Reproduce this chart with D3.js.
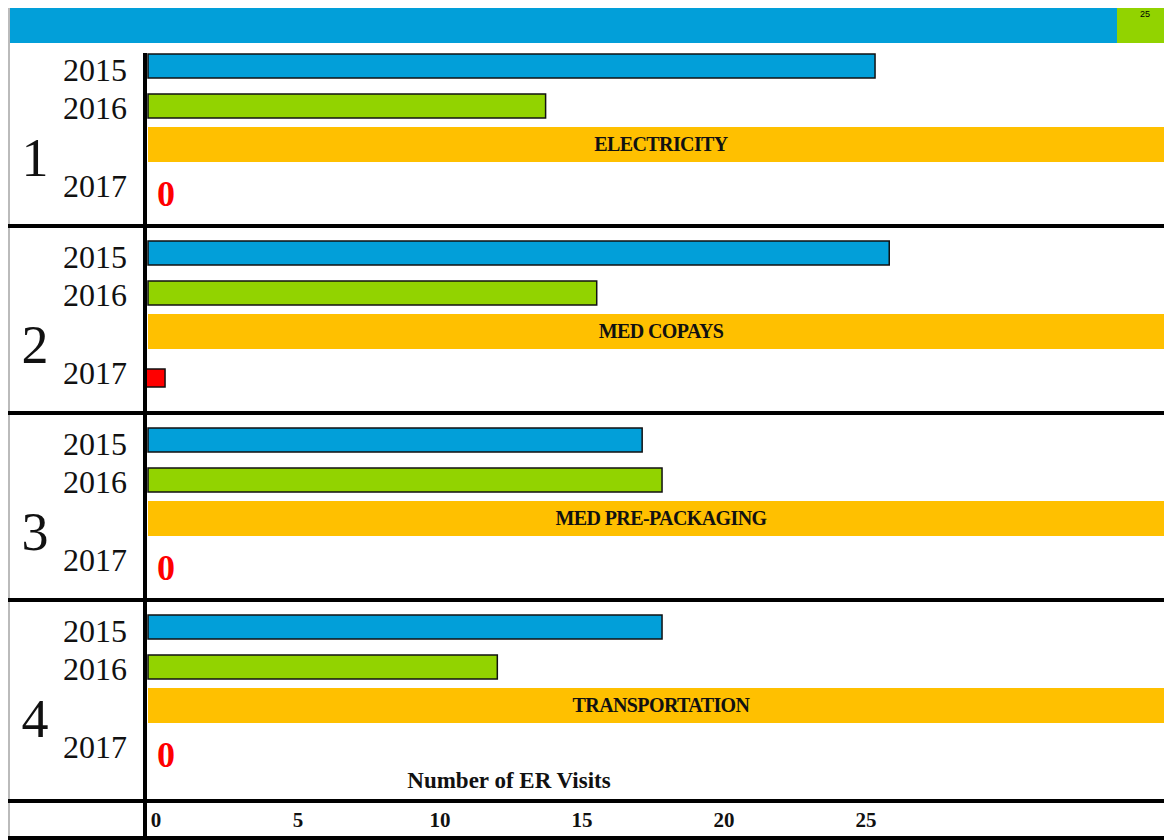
<!DOCTYPE html>
<html>
<head>
<meta charset="utf-8">
<script src="https://cdn.jsdelivr.net/npm/d3@7"></script>
<style>
  body { margin: 0; background: #fff; }
  text { font-family: "Liberation Serif", "Times New Roman", serif; }
</style>
</head>
<body>
<svg id="chart"></svg>
<script>
/* ER visits by reason */

var panels = ["1", "2", "3", "4"];
var categories = ["ELECTRICITY", "MED COPAYS", "MED PRE-PACKAGING", "TRANSPORTATION"];
var years = ["2015", "2016", "2017"];
var visits2015 = [25.6, 26.1, 17.4, 18.1];
var visits2016 = [14.0, 15.8, 18.1, 12.3];
var visits2017 = [0, 0.6, 0, 0];
var xTicks = [0, 5, 10, 15, 20, 25];
var cornerLabel = "25";

function generateChart() {
  var width = 1164,
    height = 840;

  var svg = d3.select("#chart")
    .attr("width", width)
    .attr("height", height);

  var xScale = d3.scaleLinear()
    .domain([0, 25])
    .range([148, 858]);

  var yPanel = d3.scaleBand()
    .domain(panels)
    .range([39, 787]);

  // header strip
  svg.append("rect")
    .attr("x", 10).attr("y", 8)
    .attr("width", 1107).attr("height", 35)
    .attr("fill", "#029fd9");
  svg.append("rect")
    .attr("x", 1117).attr("y", 8)
    .attr("width", 47).attr("height", 35)
    .attr("fill", "#92d300");
  svg.append("text")
    .attr("x", 1145).attr("y", 17)
    .attr("text-anchor", "middle")
    .style("font-family", "Liberation Sans")
    .style("font-size", "9px")
    .text(cornerLabel);

  // left gray edge
  svg.append("line")
    .attr("x1", 9).attr("x2", 9)
    .attr("y1", 8).attr("y2", 840)
    .attr("stroke", "#bbb")
    .attr("stroke-width", 2);

  var g = svg.selectAll("g.panel")
    .data(panels)
    .enter()
    .append("g")
    .attr("class", "panel")
    .attr("transform", function (d) {
      return "translate(0," + yPanel(d) + ")";
    });

  // 2015 bars
  g.append("rect")
    .attr("x", xScale(0))
    .attr("y", 15)
    .attr("width", function (d, i) { return xScale(visits2015[i]) - xScale(0); })
    .attr("height", 24)
    .attr("fill", "#029fd9")
    .attr("stroke", "#111")
    .attr("stroke-width", 1.5);

  // 2016 bars
  g.append("rect")
    .attr("x", xScale(0))
    .attr("y", 55)
    .attr("width", function (d, i) { return xScale(visits2016[i]) - xScale(0); })
    .attr("height", 24)
    .attr("fill", "#92d300")
    .attr("stroke", "#111")
    .attr("stroke-width", 1.5);

  // category bands
  g.append("rect")
    .attr("x", xScale(0))
    .attr("y", 88)
    .attr("width", width - xScale(0))
    .attr("height", 35)
    .attr("fill", "#ffc000");
  g.append("text")
    .attr("x", (xScale(0) + width) / 2 + 5)
    .attr("y", 105)
    .attr("dy", "0.35em")
    .attr("text-anchor", "middle")
    .style("font-size", "20px")
    .style("font-weight", "bold")
    .style("letter-spacing", "-0.6px")
    .attr("fill", "#111")
    .text(function (d, i) { return categories[i]; });

  // 2017 bars or zero labels
  g.each(function (d, i) {
    var sel = d3.select(this);
    if (visits2017[i] > 0) {
      sel.append("rect")
        .attr("x", xScale(0) - 2)
        .attr("y", 143)
        .attr("width", xScale(visits2017[i]) - xScale(0) + 2)
        .attr("height", 18)
        .attr("fill", "#ff0000")
        .attr("stroke", "#111")
        .attr("stroke-width", 1.5);
    } else {
      sel.append("text")
        .attr("x", xScale(0) + 9)
        .attr("y", 154)
        .attr("dy", "0.35em")
        .attr("fill", "#ff0000")
        .style("font-size", "36px")
        .style("font-weight", "bold")
        .text(visits2017[i]);
    }
  });

  // year labels
  var yearOffset = [31, 69, 147];
  years.forEach(function (yr, k) {
    g.append("text")
      .attr("x", 127)
      .attr("y", yearOffset[k])
      .attr("dy", "0.35em")
      .attr("text-anchor", "end")
      .style("font-size", "32px")
      .attr("fill", "#111")
      .text(yr);
  });

  // panel numbers
  g.append("text")
    .attr("x", 35)
    .attr("y", 118)
    .attr("dy", "0.35em")
    .attr("text-anchor", "middle")
    .style("font-size", "54px")
    .attr("fill", "#111")
    .text(function (d) { return d; });

  // grid lines
  var hLines = panels.slice(1).map(function (d) { return yPanel(d); });
  hLines.push(801, 838);
  svg.selectAll("line.hline")
    .data(hLines)
    .enter()
    .append("line")
    .attr("class", "hline")
    .attr("x1", 8).attr("x2", width)
    .attr("y1", function (d) { return d; })
    .attr("y2", function (d) { return d; })
    .attr("stroke", "#000")
    .attr("stroke-width", 4);

  svg.append("line")
    .attr("x1", 145).attr("x2", 145)
    .attr("y1", 53).attr("y2", 840)
    .attr("stroke", "#000")
    .attr("stroke-width", 4);

  // axis title and ticks
  svg.append("text")
    .attr("x", 509)
    .attr("y", 780)
    .attr("dy", "0.35em")
    .attr("text-anchor", "middle")
    .style("font-size", "23px")
    .style("font-weight", "bold")
    .attr("fill", "#111")
    .text("Number of ER Visits");

  svg.selectAll("text.tick")
    .data(xTicks)
    .enter()
    .append("text")
    .attr("class", "tick")
    .attr("x", function (d) { return xScale(d) + 8; })
    .attr("y", 820)
    .attr("dy", "0.35em")
    .attr("text-anchor", "middle")
    .style("font-size", "21px")
    .style("font-weight", "bold")
    .attr("fill", "#111")
    .text(function (d) { return d; });
}

generateChart();
</script>
</body>
</html>
